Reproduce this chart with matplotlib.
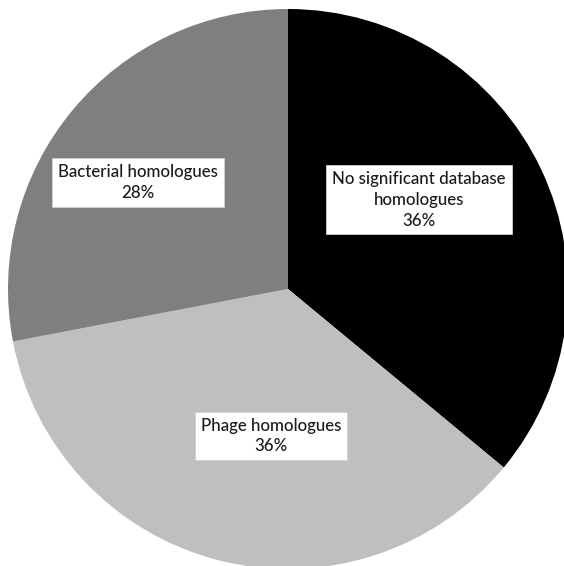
import matplotlib
matplotlib.use("Agg")
import matplotlib.pyplot as plt

categories = ["No significant database\nhomologues", "Phage homologues", "Bacterial homologues"]
values = [36, 36, 28]
colors = ["#000000", "#bfbfbf", "#7f7f7f"]
label_pos = [(0.468, 0.318), (-0.061, -0.525), (-0.536, 0.38)]

plt.rcParams['font.family'] = ['Lato', 'DejaVu Sans']

fig = plt.figure(figsize=(5.64, 5.66), dpi=100)
ax = fig.add_axes([0, 0, 1, 1])
wedges, _ = ax.pie(values, colors=colors, startangle=90, counterclock=False,
                   radius=1.0, center=(0, 0),
                   wedgeprops=dict(linewidth=0, edgecolor='none'))
ax.set_aspect('auto')
ax.set_xlim(-288/280, (564-288)/280)
ax.set_ylim(-(566-289)/280, 289/280)
ax.axis('off')

for cat, val, (x, y) in zip(categories, values, label_pos):
    ax.text(x, y, f"{cat}\n{val}%", ha='center', va='center', fontsize=12.2,
            color='#1a1a1a', linespacing=1.35, fontweight='medium',
            bbox=dict(boxstyle='square,pad=0.35', fc='white', ec='#d0d0d0', lw=0.6))

fig.savefig("out.png", dpi=100)
